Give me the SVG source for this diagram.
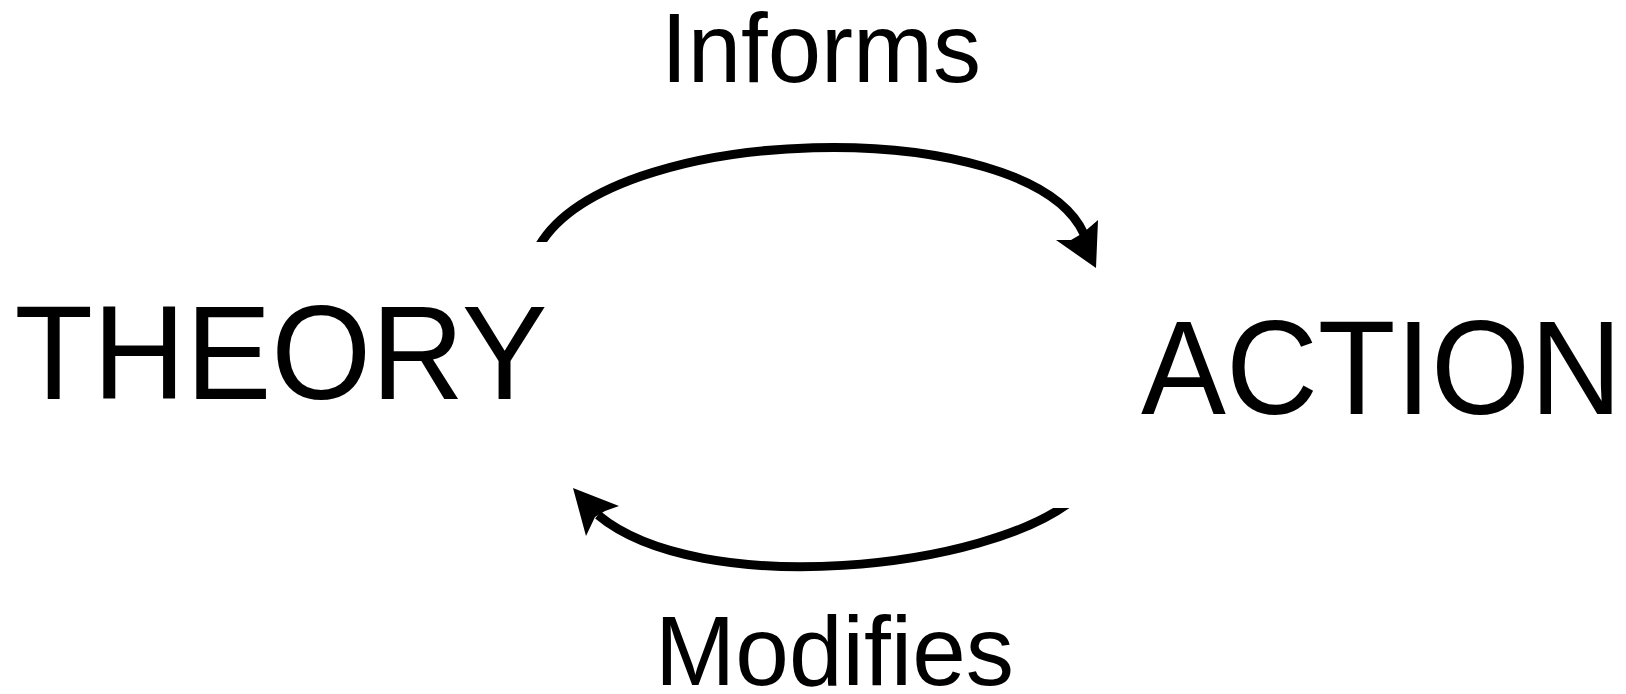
<svg xmlns="http://www.w3.org/2000/svg" width="1626" height="694" viewBox="0 0 1626 694">
  <style>
    .big { font-family: "Liberation Sans", Arial, Helvetica, sans-serif; font-size: 134px; fill: #000; }
    .lbl { font-family: "Liberation Sans", Arial, Helvetica, sans-serif; font-size: 99px; fill: #000; }
    .arc { fill: none; stroke: #000; stroke-width: 9; }
    .head { fill: #000; stroke: none; }
  </style>
  <defs>
    <!-- flat horizontal cut at the start of each curve -->
    <clipPath id="cutTop">
      <path d="M0,0 H1626 V694 H0 Z M0,242 H760 V694 H0 Z" clip-rule="evenodd"/>
    </clipPath>
    <clipPath id="cutBottom">
      <path d="M0,0 H1626 V694 H0 Z M900,0 H1626 V508 H900 Z" clip-rule="evenodd"/>
    </clipPath>
  </defs>

  <rect width="1626" height="694" fill="#fff"/>

  <g id="theory">
    <text class="big" x="14.4" y="399" textLength="533" lengthAdjust="spacingAndGlyphs">THEORY</text>
  </g>

  <g id="action">
    <text class="big" x="1141" y="413.5" textLength="481" lengthAdjust="spacingAndGlyphs">ACTION</text>
  </g>

  <g id="connectors">
    <g id="informs-edge">
      <path class="arc" clip-path="url(#cutTop)" d="M536,252 C600,120 1029,112 1084,234"/>
      <polygon class="head" points="1096,268 1056,240 1071,240 1083,233 1098,220"/>
      <text class="lbl" x="661" y="81.5" textLength="320" lengthAdjust="spacingAndGlyphs">Informs</text>
    </g>
    <g id="modifies-edge">
      <path class="arc" clip-path="url(#cutBottom)" d="M1075,498 C990,570 700,600 598,515"/>
      <polygon class="head" points="573,488 619,506 605,511 595,517 586,536"/>
      <text class="lbl" x="655" y="684.5" textLength="359" lengthAdjust="spacingAndGlyphs">Modifies</text>
    </g>
  </g>
</svg>
